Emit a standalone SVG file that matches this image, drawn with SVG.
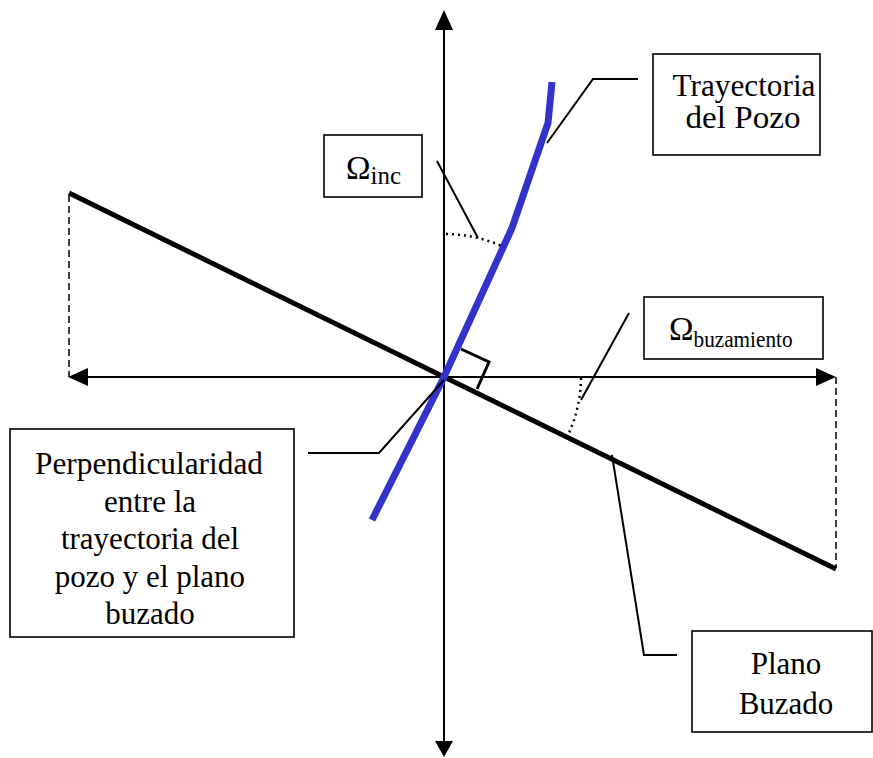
<svg xmlns="http://www.w3.org/2000/svg" width="873" height="758" viewBox="0 0 873 758">
<style>
.box{fill:#fff;stroke:#000;stroke-width:1.6}
.t{font-family:"Liberation Serif","Times New Roman",serif;font-size:31px;fill:#000;text-anchor:middle}
.lead{fill:none;stroke:#000;stroke-width:2}
.axis{fill:none;stroke:#000;stroke-width:2}
.dash{fill:none;stroke:#000;stroke-width:1.5;stroke-dasharray:7,4}
.dot{fill:none;stroke:#000;stroke-width:2.5;stroke-dasharray:2,4}
</style>
<rect width="873" height="758" fill="#fff"/>
<g id="connectors">
<line class="axis" x1="444" y1="30" x2="444" y2="742"/>
<polygon points="444,10 435,30 453,30" fill="#000"/>
<polygon points="444,757 435,741 453,741" fill="#000"/>
<line class="axis" x1="86" y1="377" x2="818" y2="377"/>
<polygon points="68,377 88,368 88,386" fill="#000"/>
<polygon points="836,377 816,368 816,386" fill="#000"/>
<line class="dash" x1="69" y1="195" x2="69" y2="377"/>
<line class="dash" x1="836" y1="377" x2="836" y2="568"/>
<line x1="69" y1="193" x2="836" y2="569" stroke="#000" stroke-width="5"/>
<polyline points="372,520 444,377 512,228 548,123 552,82" fill="none" stroke="#3333cc" stroke-width="7" stroke-linejoin="miter"/>
<polyline points="461,349 489,362 477,389" fill="none" stroke="#000" stroke-width="3"/>
<path class="dot" d="M446,234 A143,143 0 0 1 504,247"/>
<path class="dot" d="M581,378 A137,137 0 0 1 568,435"/>
<polyline class="lead" points="638,79 593,79 547,143"/>
<polyline class="lead" points="437,161 478,238"/>
<polyline class="lead" points="629,313 581,400"/>
<polyline class="lead" points="308,453 379,453 444,380"/>
<polyline class="lead" points="677,655 644,655 612,455"/>
</g>
<g id="node-trayectoria">
<rect class="box" x="653" y="54" width="167" height="101"/>
<text class="t" x="744" y="96" textLength="143" lengthAdjust="spacingAndGlyphs">Trayectoria</text>
<text class="t" x="743" y="128" textLength="115" lengthAdjust="spacingAndGlyphs">del Pozo</text>
</g>
<g id="node-omega-inc">
<rect class="box" x="324" y="135" width="98" height="62"/>
<text class="t" x="346" y="179" style="text-anchor:start;font-size:33px">Ω<tspan font-size="25" dy="5">inc</tspan></text>
</g>
<g id="node-omega-buz">
<rect class="box" x="644" y="297" width="179" height="62"/>
<text class="t" x="669" y="340" style="text-anchor:start;font-size:33px">Ω<tspan font-size="23" dy="7" textLength="99" lengthAdjust="spacingAndGlyphs">buzamiento</tspan></text>
</g>
<g id="node-perpendicularidad">
<rect class="box" x="10" y="429" width="284" height="208"/>
<text class="t" x="149" y="474" textLength="228" lengthAdjust="spacingAndGlyphs">Perpendicularidad</text>
<text class="t" x="150" y="512">entre la</text>
<text class="t" x="150" y="549">trayectoria del</text>
<text class="t" x="150" y="587">pozo y el plano</text>
<text class="t" x="150" y="624">buzado</text>
</g>
<g id="node-plano">
<rect class="box" x="692" y="631" width="180" height="101"/>
<text class="t" x="786" y="674">Plano</text>
<text class="t" x="786" y="714">Buzado</text>
</g>
</svg>
